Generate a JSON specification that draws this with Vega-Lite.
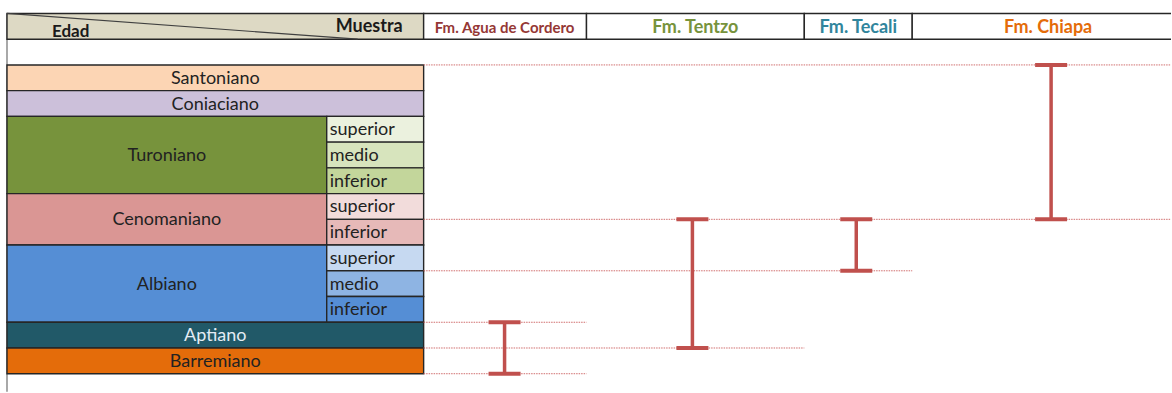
{
  "$schema": "https://vega.github.io/schema/vega-lite/v6.json",
  "width": 1172,
  "height": 393,
  "autosize": {"type": "fit", "contains": "padding"},
  "padding": 0,
  "background": "white",
  "config": {"view": {"stroke": null}},
  "datasets": {
    "cells": [
      {"id": "head", "kind": "head", "label": "", "x0": 7, "x1": 424, "top": 0, "bottom": 1},
      {"id": "f1", "kind": "head", "label": "", "x0": 424, "x1": 587, "top": 0, "bottom": 1},
      {"id": "f2", "kind": "head", "label": "", "x0": 587, "x1": 805, "top": 0, "bottom": 1},
      {"id": "f3", "kind": "head", "label": "", "x0": 805, "x1": 913, "top": 0, "bottom": 1},
      {"id": "f4", "kind": "head", "label": "", "x0": 913, "x1": 1185, "top": 0, "bottom": 1},
      {"id": "Santoniano", "kind": "stage", "label": "Santoniano", "x0": 7, "x1": 424, "top": 2, "bottom": 3},
      {"id": "Coniaciano", "kind": "stage", "label": "Coniaciano", "x0": 7, "x1": 424, "top": 3, "bottom": 4},
      {"id": "Turoniano", "kind": "stage", "label": "Turoniano", "x0": 7, "x1": 327, "top": 4, "bottom": 7},
      {"id": "Tur-sup", "kind": "sub", "label": "superior", "x0": 327, "x1": 424, "top": 4, "bottom": 5},
      {"id": "Tur-med", "kind": "sub", "label": "medio", "x0": 327, "x1": 424, "top": 5, "bottom": 6},
      {"id": "Tur-inf", "kind": "sub", "label": "inferior", "x0": 327, "x1": 424, "top": 6, "bottom": 7},
      {"id": "Cenomaniano", "kind": "stage", "label": "Cenomaniano", "x0": 7, "x1": 327, "top": 7, "bottom": 9},
      {"id": "Cen-sup", "kind": "sub", "label": "superior", "x0": 327, "x1": 424, "top": 7, "bottom": 8},
      {"id": "Cen-inf", "kind": "sub", "label": "inferior", "x0": 327, "x1": 424, "top": 8, "bottom": 9},
      {"id": "Albiano", "kind": "stage", "label": "Albiano", "x0": 7, "x1": 327, "top": 9, "bottom": 12},
      {"id": "Alb-sup", "kind": "sub", "label": "superior", "x0": 327, "x1": 424, "top": 9, "bottom": 10},
      {"id": "Alb-med", "kind": "sub", "label": "medio", "x0": 327, "x1": 424, "top": 10, "bottom": 11},
      {"id": "Alb-inf", "kind": "sub", "label": "inferior", "x0": 327, "x1": 424, "top": 11, "bottom": 12},
      {"id": "Aptiano", "kind": "stage", "label": "Aptiano", "x0": 7, "x1": 424, "top": 12, "bottom": 13},
      {"id": "Barremiano", "kind": "stage", "label": "Barremiano", "x0": 7, "x1": 424, "top": 13, "bottom": 14}
    ],
    "guides": [
      {"y": 2, "x0": 424, "x1": 1172},
      {"y": 8, "x0": 424, "x1": 1172},
      {"y": 10, "x0": 424, "x1": 913},
      {"y": 12, "x0": 424, "x1": 587},
      {"y": 13, "x0": 424, "x1": 805},
      {"y": 14, "x0": 424, "x1": 587}
    ],
    "ranges": [
      {"formation": "Fm. Agua de Cordero", "xc": 505, "top": 12, "bottom": 14},
      {"formation": "Fm. Tentzo", "xc": 693, "top": 8, "bottom": 13},
      {"formation": "Fm. Tecali", "xc": 857, "top": 8, "bottom": 10},
      {"formation": "Fm. Chiapa", "xc": 1052, "top": 2, "bottom": 8}
    ],
    "formations": [
      {"label": "Fm. Agua de Cordero", "xc": 505, "y": 0.5},
      {"label": "Fm. Tentzo", "xc": 696, "y": 0.5},
      {"label": "Fm. Tecali", "xc": 859, "y": 0.5},
      {"label": "Fm. Chiapa", "xc": 1049, "y": 0.5}
    ]
  },
  "layer": [
    {
      "data": {"values": [{"x": 7, "y0": 0, "y1": 14.7}]},
      "mark": {"type": "rule", "color": "#8c8c8c", "strokeWidth": 1.5},
      "encoding": {
        "x": {"field": "x", "type": "quantitative", "axis": null, "scale": {"domain": [0, 1172], "nice": false, "zero": false}},
        "y": {"field": "y0", "type": "quantitative", "axis": null, "scale": {"domain": [-0.523, 14.71], "nice": false, "zero": false, "reverse": true}},
        "y2": {"field": "y1"}
      }
    },
    {
      "data": {"name": "cells"},
      "mark": {"type": "rect", "stroke": "#262626", "strokeWidth": 1.4, "clip": true},
      "encoding": {
        "x": {"field": "x0", "type": "quantitative", "axis": null},
        "x2": {"field": "x1"},
        "y": {"field": "top", "type": "quantitative", "axis": null},
        "y2": {"field": "bottom"},
        "fill": {
          "field": "id", "type": "nominal", "legend": null,
          "scale": {
            "domain": ["head", "f1", "f2", "f3", "f4", "Santoniano", "Coniaciano", "Turoniano", "Tur-sup", "Tur-med", "Tur-inf", "Cenomaniano", "Cen-sup", "Cen-inf", "Albiano", "Alb-sup", "Alb-med", "Alb-inf", "Aptiano", "Barremiano"],
            "range": ["#ddd9c4", "#ffffff", "#ffffff", "#ffffff", "#ffffff", "#fcd5b4", "#ccc0da", "#77933c", "#ebf1de", "#d7e4bd", "#c3d69b", "#da9694", "#f2dcdb", "#e6b9b8", "#558ed5", "#c6d9f1", "#8eb4e3", "#558ed5", "#215968", "#e46c0a"]
          }
        }
      }
    },
    {
      "data": {"values": [{"x0": 7, "x1": 358, "y0": 0, "y1": 1}]},
      "mark": {"type": "rule", "color": "#404040", "strokeWidth": 1.2},
      "encoding": {
        "x": {"field": "x0", "type": "quantitative", "axis": null},
        "x2": {"field": "x1"},
        "y": {"field": "y0", "type": "quantitative", "axis": null},
        "y2": {"field": "y1"}
      }
    },
    {
      "data": {"name": "guides"},
      "mark": {"type": "rule", "color": "#d06e6e", "strokeWidth": 1, "strokeDash": [1.5, 1]},
      "encoding": {
        "x": {"field": "x0", "type": "quantitative", "axis": null},
        "x2": {"field": "x1"},
        "y": {"field": "y", "type": "quantitative", "axis": null}
      }
    },
    {
      "data": {"name": "ranges"},
      "mark": {"type": "rule", "color": "#c0504d", "strokeWidth": 3.5},
      "encoding": {
        "x": {"field": "xc", "type": "quantitative", "axis": null},
        "y": {"field": "top", "type": "quantitative", "axis": null},
        "y2": {"field": "bottom"}
      }
    },
    {
      "data": {"name": "ranges"},
      "transform": [{"fold": ["top", "bottom"], "as": ["end", "value"]}],
      "mark": {"type": "tick", "orient": "horizontal", "color": "#c0504d", "size": 32, "thickness": 4, "opacity": 1},
      "encoding": {
        "x": {"field": "xc", "type": "quantitative", "axis": null},
        "y": {"field": "value", "type": "quantitative", "axis": null}
      }
    },
    {
      "data": {"name": "cells"},
      "transform": [
        {"filter": "datum.kind === 'stage'"},
        {"calculate": "(datum.x0 + datum.x1) / 2", "as": "xm"},
        {"calculate": "(datum.top + datum.bottom) / 2", "as": "ym"}
      ],
      "mark": {"type": "text", "font": "Lato", "fontSize": 18, "align": "center", "baseline": "middle", "dy": 1},
      "encoding": {
        "x": {"field": "xm", "type": "quantitative", "axis": null},
        "y": {"field": "ym", "type": "quantitative", "axis": null},
        "text": {"field": "label"},
        "color": {"condition": {"test": "datum.label === 'Aptiano'", "value": "#e4ecf5"}, "value": "#222222"}
      }
    },
    {
      "data": {"name": "cells"},
      "transform": [
        {"filter": "datum.kind === 'sub'"},
        {"calculate": "(datum.top + datum.bottom) / 2", "as": "ym"}
      ],
      "mark": {"type": "text", "font": "Lato", "fontSize": 18, "align": "left", "baseline": "middle", "dx": 3, "dy": 1, "color": "#222222"},
      "encoding": {
        "x": {"field": "x0", "type": "quantitative", "axis": null},
        "y": {"field": "ym", "type": "quantitative", "axis": null},
        "text": {"field": "label"}
      }
    },
    {
      "data": {"values": [{"label": "Edad", "x": 52, "y": 0.7}]},
      "mark": {"type": "text", "font": "Lato", "fontSize": 17, "fontWeight": "bold", "align": "left", "baseline": "middle", "dy": 1, "color": "#1a1a1a"},
      "encoding": {
        "x": {"field": "x", "type": "quantitative", "axis": null},
        "y": {"field": "y", "type": "quantitative", "axis": null},
        "text": {"field": "label"}
      }
    },
    {
      "data": {"values": [{"label": "Muestra", "x": 403, "y": 0.48}]},
      "mark": {"type": "text", "font": "Lato", "fontSize": 18, "fontWeight": "bold", "align": "right", "baseline": "middle", "dy": 1, "color": "#1a1a1a"},
      "encoding": {
        "x": {"field": "x", "type": "quantitative", "axis": null},
        "y": {"field": "y", "type": "quantitative", "axis": null},
        "text": {"field": "label"}
      }
    },
    {
      "data": {"name": "formations"},
      "transform": [{"filter": "datum.label === 'Fm. Agua de Cordero'"}],
      "mark": {"type": "text", "font": "Lato", "fontSize": 15, "fontWeight": "bold", "align": "center", "baseline": "middle", "dy": 2, "color": "#953735"},
      "encoding": {
        "x": {"field": "xc", "type": "quantitative", "axis": null},
        "y": {"field": "y", "type": "quantitative", "axis": null},
        "text": {"field": "label"}
      }
    },
    {
      "data": {"name": "formations"},
      "transform": [{"filter": "datum.label !== 'Fm. Agua de Cordero'"}],
      "mark": {"type": "text", "font": "Lato", "fontSize": 18, "fontWeight": "bold", "align": "center", "baseline": "middle", "dy": 2},
      "encoding": {
        "x": {"field": "xc", "type": "quantitative", "axis": null},
        "y": {"field": "y", "type": "quantitative", "axis": null},
        "text": {"field": "label"},
        "color": {
          "field": "label", "type": "nominal", "legend": null,
          "scale": {"domain": ["Fm. Tentzo", "Fm. Tecali", "Fm. Chiapa"], "range": ["#77933c", "#31859c", "#e46c0a"]}
        }
      }
    }
  ]
}
